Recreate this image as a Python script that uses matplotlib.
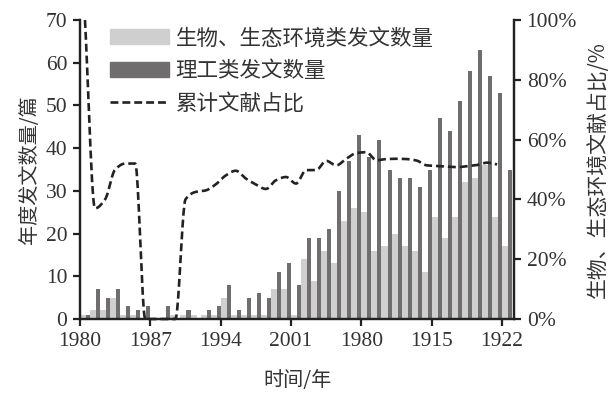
import numpy as np
import matplotlib
matplotlib.use("Agg")
import matplotlib.pyplot as plt
from matplotlib.patches import Patch
from matplotlib.lines import Line2D

plt.rcParams['font.family'] = ['Noto Sans CJK SC', 'DejaVu Sans']

# 数据
years = list(range(1980, 2023))
bio = [1, 2, 2, 5, 1, 1, 0, 0, 0, 1,
       1, 1, 1, 1, 5, 1, 1, 1, 1, 7,
       7, 1, 14, 9, 16, 13, 23, 26, 25, 16,
       17, 20, 17, 16, 11, 24, 19, 24, 32, 33,
       36, 24, 17]
eng = [1, 7, 5, 7, 3, 2, 3, 0, 3, 0,
       2, 0, 2, 3, 8, 2, 5, 6, 5, 11,
       13, 8, 19, 19, 21, 30, 37, 43, 38, 42,
       35, 33, 33, 31, 35, 47, 44, 51, 58, 63,
       57, 53, 35]
ratio_years = list(range(1980, 2022))
ratio = [100, 37, 40, 50, 52, 52, 0, 0, 0, 0,
         40, 42.5, 43, 45, 48, 49.6, 47, 45, 43.5, 46.4,
         47.5, 45.3, 49.8, 49.8, 52.9, 51.4, 53.6, 55.5, 55.8, 53.1,
         53.5, 53.6, 53.5, 53, 51.4, 51.2, 51, 50.8, 51.1, 51.5,
         52.3, 51.7]
tick_pos = [1980, 1987, 1994, 2001, 2008, 2015, 2022]
tick_lab = ['1980', '1987', '1994', '2001', '1980', '1915', '1922']

c_light = '#cfcfcf'
c_dark = '#6f6d6e'
c_axis = '#222222'
serif = 'Liberation Serif'


def smooth(x, y, n=20):
    # monotone cubic (fritsch-carlson) so the curve doesn't overshoot
    x = np.asarray(x, float)
    y = np.asarray(y, float)
    h = np.diff(x)
    d = np.diff(y) / h
    m = np.zeros_like(y)
    m[0], m[-1] = d[0], d[-1]
    for i in range(1, len(y) - 1):
        if d[i - 1] * d[i] > 0:
            w1 = 2 * h[i] + h[i - 1]
            w2 = h[i] + 2 * h[i - 1]
            m[i] = (w1 + w2) / (w1 / d[i - 1] + w2 / d[i])
    xs, ys = [], []
    t = np.linspace(0, 1, n, endpoint=False)
    for i in range(len(y) - 1):
        h00 = 2 * t ** 3 - 3 * t ** 2 + 1
        h10 = t ** 3 - 2 * t ** 2 + t
        h01 = -2 * t ** 3 + 3 * t ** 2
        h11 = t ** 3 - t ** 2
        xs.append(x[i] + t * h[i])
        ys.append(h00 * y[i] + h10 * h[i] * m[i] + h01 * y[i + 1] + h11 * h[i] * m[i + 1])
    xs.append([x[-1]])
    ys.append([y[-1]])
    return np.concatenate(xs), np.concatenate(ys)


fig = plt.figure(figsize=(6.15, 3.96), dpi=100)
ax = fig.add_axes([0.130, 0.1944, 0.706, 0.755])
ax2 = ax.twinx()

yr = np.array(years)
ax.bar(yr, bio, width=0.6, align='edge', color=c_light, linewidth=0)
ax.bar(yr + 0.6, eng, width=0.4, align='edge', color=c_dark, linewidth=0)

sx, sy = smooth(np.array(ratio_years) + 0.5, ratio)
ax2.plot(sx, sy, color=c_axis, lw=1.9, dashes=(3, 1.5), clip_on=False)

ax.set_xlim(1980, 2023.2)
ax.set_ylim(0, 70)
ax2.set_ylim(0, 100)
ax.set_yticks(range(0, 71, 10))
ax2.set_yticks(range(0, 101, 20))
ax2.set_yticklabels([f'{v}%' for v in range(0, 101, 20)])
ax.set_xticks(tick_pos)
ax.set_xticklabels(tick_lab)

for a in (ax, ax2):
    a.spines['top'].set_visible(False)
    for s in ('left', 'right', 'bottom'):
        a.spines[s].set_linewidth(1.6)
        a.spines[s].set_color(c_axis)
    a.tick_params(width=1.6, length=5, color=c_axis, labelsize=15.5,
                  labelcolor='#333333', pad=4)
    for lab in a.get_xticklabels() + a.get_yticklabels():
        lab.set_fontfamily(serif)

ax.set_xlabel('时间/年', fontsize=14.5, color='#333333', labelpad=14)
ax.set_ylabel('年度发文数量/篇', fontsize=14.5, color='#333333', labelpad=4)
ax2.set_ylabel('生物、生态环境文献占比/%', fontsize=15, color='#333333',
               labelpad=7)

handles = [Patch(color=c_light), Patch(color=c_dark),
           Line2D([], [], color=c_axis, lw=1.9, dashes=(3, 1.5))]
labels = ['生物、生态环境类发文数量', '理工类发文数量', '累计文献占比']
ax2.legend(handles, labels, loc='upper left', bbox_to_anchor=(0.049, 1.004),
           frameon=False, fontsize=15.5, handlelength=2.75, handletextpad=0.3,
           labelspacing=0.5, borderaxespad=0, labelcolor='#333333')

fig.savefig('out.png', dpi=100)
